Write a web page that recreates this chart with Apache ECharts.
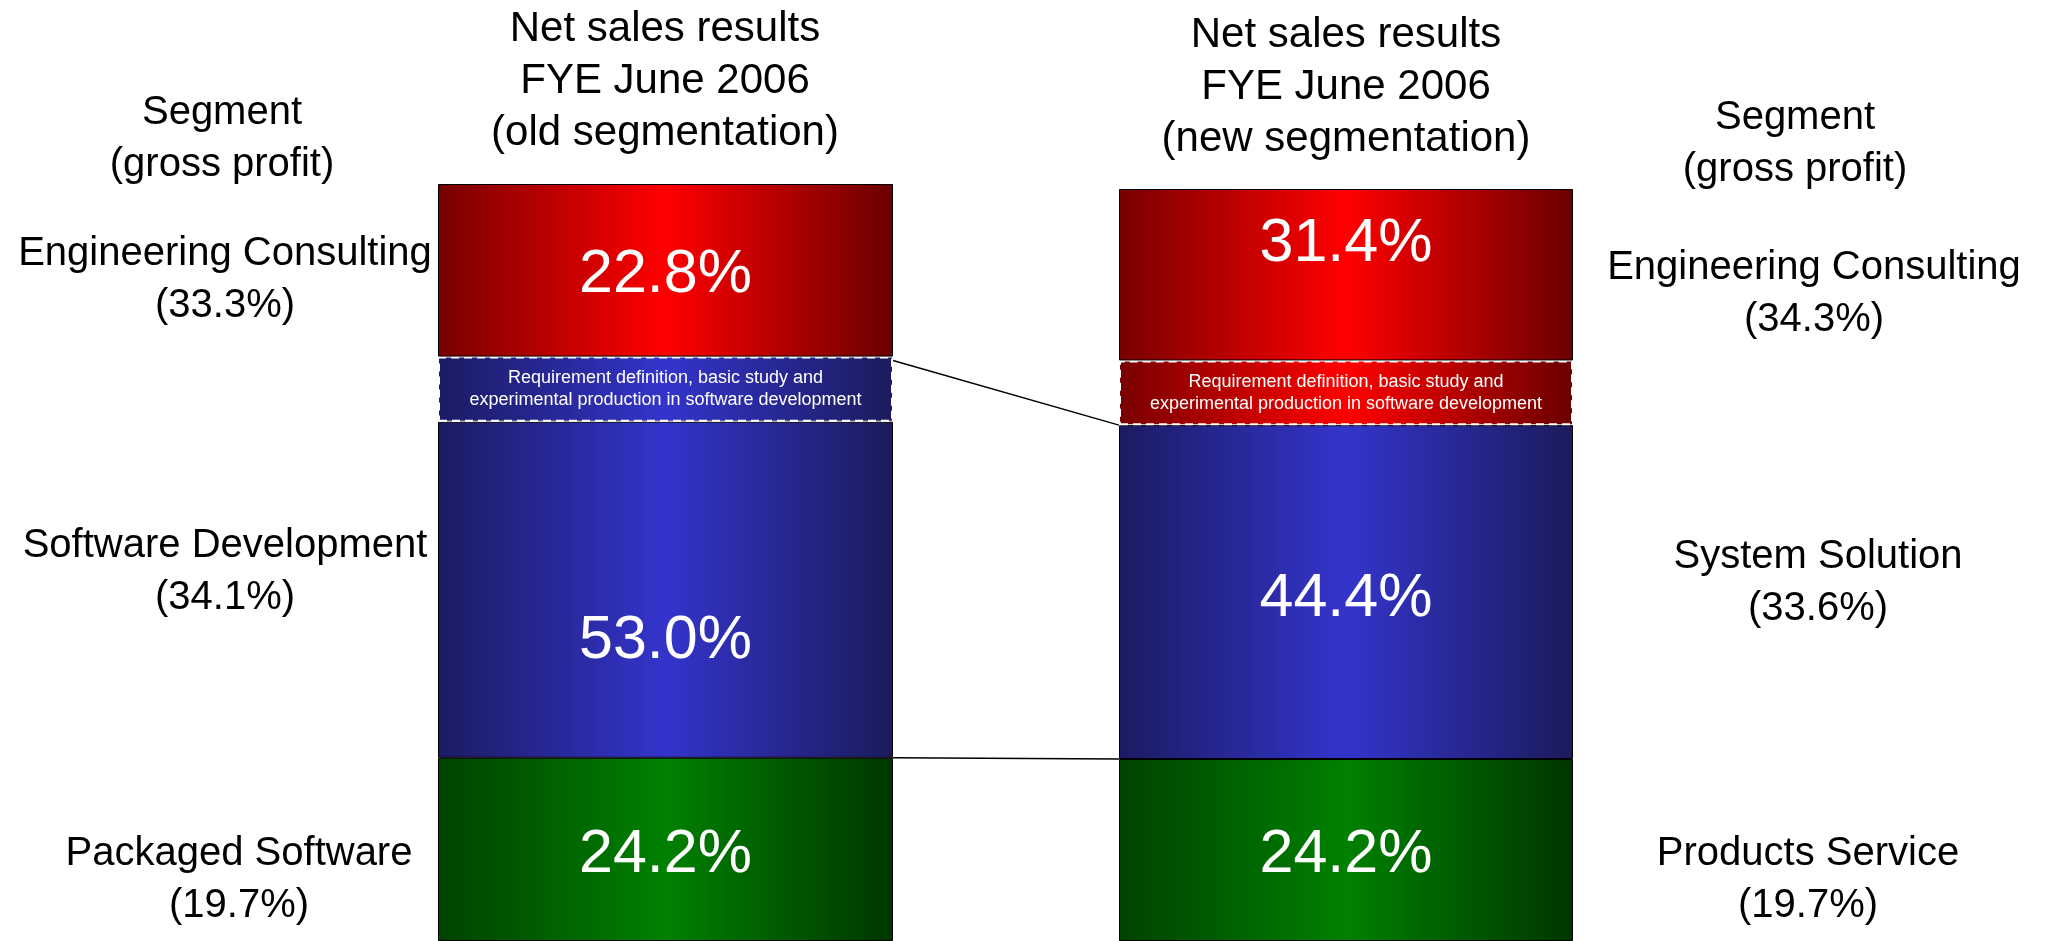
<!DOCTYPE html>
<html>
<head>
<meta charset="utf-8">
<script src="https://cdn.jsdelivr.net/npm/echarts@6/dist/echarts.min.js"></script>
<style>
  html, body { margin: 0; padding: 0; background: #fff; }
  #chart { width: 2047px; height: 941px; }
</style>
</head>
<body>
<div id="chart"></div>
<script>
// net sales share (%) per segment: [Engineering Consulting, Software Dev / System Solution, Packaged Sw / Products Service]
const oldShare = [22.8, 53.0, 24.2]
const newShare = [31.4, 44.4, 24.2]
// part moved from software development to engineering consulting
const movedShare = 8.6

const oldSegments = ['Engineering Consulting', 'Software Development', 'Packaged Software']
const oldGross = [33.3, 34.1, 19.7]
const newSegments = ['Engineering Consulting', 'System Solution', 'Products Service']
const newGross = [34.3, 33.6, 19.7]

const barTitles = [
  'Net sales results\nFYE June 2006\n(old segmentation)',
  'Net sales results\nFYE June 2006\n(new segmentation)'
]
const headerText = 'Segment\n(gross profit)'
const movedText = 'Requirement definition, basic study and\nexperimental production in software development'

const FONT = '"Liberation Sans", Arial, Helvetica, sans-serif'

const grad = (l, m, r) => new echarts.graphic.LinearGradient(0, 0, 1, 0, [
  { offset: 0, color: l },
  { offset: 0.5, color: m },
  { offset: 1, color: r }
])
const RED = () => grad('#780000', '#ff0000', '#6a0000')
const BLUE = () => grad('#1b1b62', '#3434cc', '#1b1b5c')
const GREEN = () => grad('#004200', '#008000', '#003600')

const pct = v => v.toFixed(1) + '%'

const seg = (axis, value, fill, text, offsetY, opts = {}) => ({
  type: 'bar',
  xAxisIndex: axis,
  yAxisIndex: axis,
  stack: 'bar' + axis,
  barWidth: '100%',
  data: [value],
  animation: false,
  silent: true,
  itemStyle: Object.assign({ color: fill, borderColor: '#000', borderWidth: 1 }, opts.itemStyle || {}),
  label: Object.assign({
    show: true,
    position: 'inside',
    formatter: () => text,
    color: '#fff',
    fontSize: 61,
    fontFamily: FONT,
    offset: [0, offsetY]
  }, opts.label || {})
})

const smallLabel = { fontSize: 18, lineHeight: 22 }
const dashed = { borderColor: '#fff', borderWidth: 2, borderType: [8, 5] }

// bottom -> top
const series = [
  // old segmentation
  seg(0, oldShare[2], GREEN(), pct(oldShare[2]), 6),
  seg(0, oldShare[1] - movedShare, BLUE(), pct(oldShare[1]), 51),
  seg(0, movedShare, BLUE(), movedText, 0, { itemStyle: dashed, label: smallLabel }),
  seg(0, oldShare[0], RED(), pct(oldShare[0]), 5),
  // new segmentation
  seg(1, newShare[2], GREEN(), pct(newShare[2]), 5),
  seg(1, newShare[1], BLUE(), pct(newShare[1]), 7),
  seg(1, movedShare, RED(), movedText, 0, { itemStyle: dashed, label: smallLabel }),
  seg(1, newShare[0] - movedShare, RED(), pct(newShare[0]), -31)
]

const leftBar = { left: 438, width: 455, top: 184, height: 759 }
const rightBar = { left: 1119, width: 454, top: 189, height: 754 }

const chart = echarts.init(document.getElementById('chart'))

chart.setOption({
  backgroundColor: '#fff',
  animation: false,
  grid: [leftBar, rightBar],
  xAxis: [
    { type: 'category', gridIndex: 0, data: ['old'], show: false },
    { type: 'category', gridIndex: 1, data: ['new'], show: false }
  ],
  yAxis: [
    { type: 'value', gridIndex: 0, min: 0, max: 100, show: false, splitLine: { show: false } },
    { type: 'value', gridIndex: 1, min: 0, max: 100, show: false, splitLine: { show: false } }
  ],
  series
})

const yAt = (g, v) => chart.convertToPixel({ gridIndex: g }, [0, v])[1]
const xL = leftBar.left + leftBar.width
const xR = rightBar.left

const text = (x, y, str, size, lh) => ({
  type: 'text',
  x, y,
  silent: true,
  style: {
    text: str,
    fill: '#000',
    fontSize: size,
    fontFamily: FONT,
    lineHeight: lh,
    align: 'center',
    verticalAlign: 'middle'
  }
})

const segX = { left: [225, 225, 239], right: [1814, 1818, 1808] }
const segY = { left: [280, 572, 880], right: [294, 583, 880] }

const graphics = [
  text(665, 81, barTitles[0], 42, 52),
  text(1346, 87, barTitles[1], 42, 52),
  text(222, 139, headerText, 40, 52),
  text(1795, 144, headerText, 40, 52)
]
oldSegments.forEach((s, i) => {
  graphics.push(text(segX.left[i], segY.left[i], s + '\n(' + pct(oldGross[i]) + ')', 40, 52))
})
newSegments.forEach((s, i) => {
  graphics.push(text(segX.right[i], segY.right[i], s + '\n(' + pct(newGross[i]) + ')', 40, 52))
})

// top of the moved block (old) -> bottom of the moved block (new)
graphics.push({
  type: 'line',
  silent: true,
  shape: {
    x1: xL, y1: yAt(0, oldShare[2] + oldShare[1]) + 4,
    x2: xR, y2: yAt(1, newShare[2] + newShare[1])
  },
  style: { stroke: '#000', lineWidth: 1.5 }
})
// bottom boundary of software development / system solution
graphics.push({
  type: 'line',
  silent: true,
  shape: {
    x1: xL, y1: yAt(0, oldShare[2]),
    x2: xR, y2: yAt(1, newShare[2])
  },
  style: { stroke: '#000', lineWidth: 1.5 }
})

chart.setOption({ graphic: graphics })
</script>
</body>
</html>
